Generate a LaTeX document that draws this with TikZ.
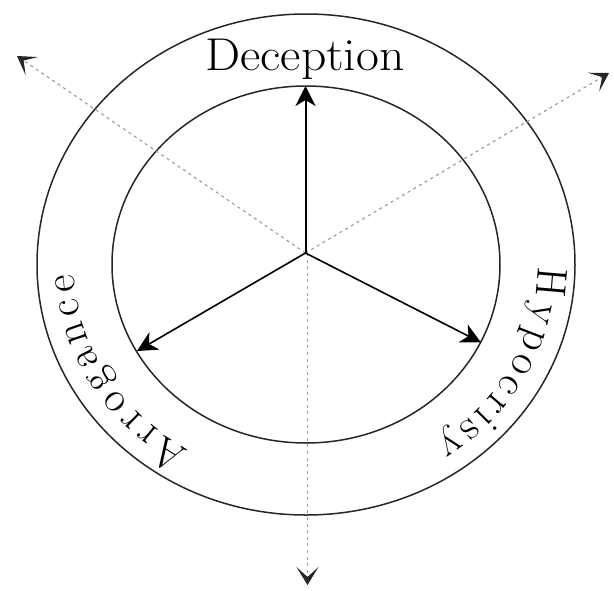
\documentclass[tikz,border=0pt]{standalone}
\usetikzlibrary{arrows.meta,decorations.text,calc}
\newcommand\curvefont{\fontsize{43}{46}\selectfont}
\begin{document}
\begin{tikzpicture}[x=1pt,y=1pt,
  ring/.style={line width=1.5pt, black!85},
  solidarrow/.style={line width=1.6pt, black, -{Stealth[length=20pt,width=20pt,inset=6pt]}},
  dotarrow/.style={line width=1.2pt, gray!75, dash pattern=on 3pt off 3.6pt, -{Stealth[length=18pt,width=22pt,inset=10pt,color=black!85]}},
  curvetext/.style={decorate, decoration={text along path, text={|\curvefont|#1}, text align={fit to path}}}]
\useasboundingbox (0,0) rectangle (614,-590);
\coordinate (C) at (306,-264.5);
\coordinate (O) at (305.5,-253);
\coordinate (Od) at (307.5,-253);
% rings
\draw[ring] (C) ellipse [x radius=194, y radius=178.5];
\draw[ring] (C) ellipse [x radius=269, y radius=250.5];
% dotted axes
\coordinate (UL) at (17,-56);
\coordinate (UR) at (609,-73);
\coordinate (DN) at (307.5,-585);
\draw[dotarrow] (O) -- (UL);
\draw[dotarrow] (O) -- (UR);
\draw[dotarrow] (Od) -- (DN);
% solid arrows
\coordinate (TU) at (305.5,-86);
\coordinate (TA) at (137,-351);
\coordinate (TH) at (481,-342.5);
\draw[solidarrow, line width=2pt] (O) -- (TU);
\draw[solidarrow] (O) -- (TA);
\draw[solidarrow] (O) -- (TH);
% labels
\node[font=\fontsize{46}{50}\selectfont, xscale=1.08, anchor=base, inner sep=0pt] (dec) at (305,-70) {Deception};
\path[curvetext=Arrogance] ($(C)+(239.6:232 and 215)$) arc[start angle=239.6, end angle=182.6, x radius=232, y radius=215];
\path[curvetext=Hypocrisy] ($(C)+(-0.6:232 and 215)$) arc[start angle=-0.6, end angle=-55.8, x radius=232, y radius=215];
\end{tikzpicture}
\end{document}
